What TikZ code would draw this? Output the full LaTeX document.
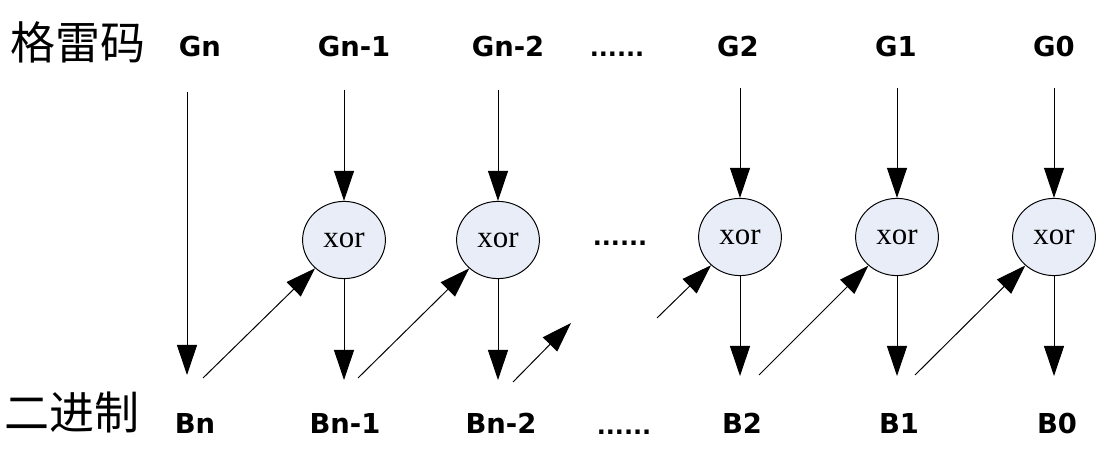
\documentclass[tikz,border=0pt]{standalone}
\usepackage{fontspec}
\setmainfont{Liberation Serif}
\setsansfont{DejaVu Sans}
\newfontfamily\cjk{Noto Sans CJK SC}
\usetikzlibrary{arrows.meta,shapes.geometric}
\definecolor{ink}{HTML}{000000}
\definecolor{xorfill}{HTML}{E8EDF8}
\tikzset{
  bit/.style={anchor=base,text=ink,font=\sffamily\bfseries\fontsize{19.5}{23}\selectfont},
  dots/.style={bit,font=\sffamily\bfseries\fontsize{17}{20}\selectfont},
  row/.style={text=ink,font=\cjk\fontsize{32}{36}\selectfont},
  xorc/.style={ellipse,draw=ink,line width=0.7pt,fill=xorfill,minimum width=2.07cm,minimum height=1.93cm,inner sep=0pt,font=\fontsize{22}{26}\selectfont},
  arr/.style={-{Triangle[length=0.75cm,width=0.5cm]},draw=ink,line width=0.7pt}
}
\begin{document}
\begin{tikzpicture}[x=0.025cm,y=0.025cm]
\useasboundingbox (0,0) rectangle (1119,-472);
% --- row names
\node[row] (gray) at (78,-42) {格雷码};
\node[row] (bin) at (72,-412) {二进制};
% --- gray code bits (top)
\node[bit] (gn) at (200,-57) {Gn};
\node[bit] (gn1) at (354,-57) {Gn-1};
\node[bit] (gn2) at (508,-57) {Gn-2};
\node[dots] (gdots) at (617,-57) {......};
\node[bit] (g2) at (738,-57) {G2};
\node[bit] (g1) at (896,-57) {G1};
\node[bit] (g0) at (1054,-57) {G0};
% --- xor gates
\foreach \n/\x/\y in {1/344/240,2/498/240,3/740/237,4/897/237,5/1054/237}
  {\node[xorc] (x\n) at (\x,-\y) {xor};}
\node[dots] (mdots) at (620,-245) {......};
% --- binary bits (bottom)
\node[bit] (bn) at (195,-433) {Bn};
\node[bit] (bn1) at (345,-433) {Bn-1};
\node[bit] (bn2) at (501,-433) {Bn-2};
\node[dots] (bdots) at (624,-434) {......};
\node[bit] (b2) at (742,-433) {B2};
\node[bit] (b1) at (899,-433) {B1};
\node[bit] (b0) at (1057,-433) {B0};
% --- straight down: Gn is Bn
\coordinate (t0) at (187,-92);
\coordinate (e0) at (187,-375);
\draw[arr] (t0) -- (e0);
% --- down through each xor
\foreach \n/\x/\t/\e in {1/344/90/380,2/498/90/380,3/740/88/376,4/897/88/376,5/1054/88/376}
  {\coordinate (t\n) at (\x,-\t);
   \coordinate (e\n) at (\x,-\e);
   \draw[arr] (t\n) -- (x\n);
   \draw[arr] (x\n) -- (e\n);}
% --- each binary bit fed back into the next xor
\coordinate (s1) at (203,-378);
\coordinate (s2) at (358,-378);
\coordinate (s3) at (513,-382);
\coordinate (f3) at (571,-323);
\coordinate (s4) at (657,-318);
\coordinate (s5) at (759,-375);
\coordinate (s6) at (915,-375);
\draw[arr] (s1) -- (x1);
\draw[arr] (s2) -- (x2);
\draw[arr] (s3) -- (f3);
\draw[arr] (s4) -- (x3);
\draw[arr] (s5) -- (x4);
\draw[arr] (s6) -- (x5);
\end{tikzpicture}
\end{document}
